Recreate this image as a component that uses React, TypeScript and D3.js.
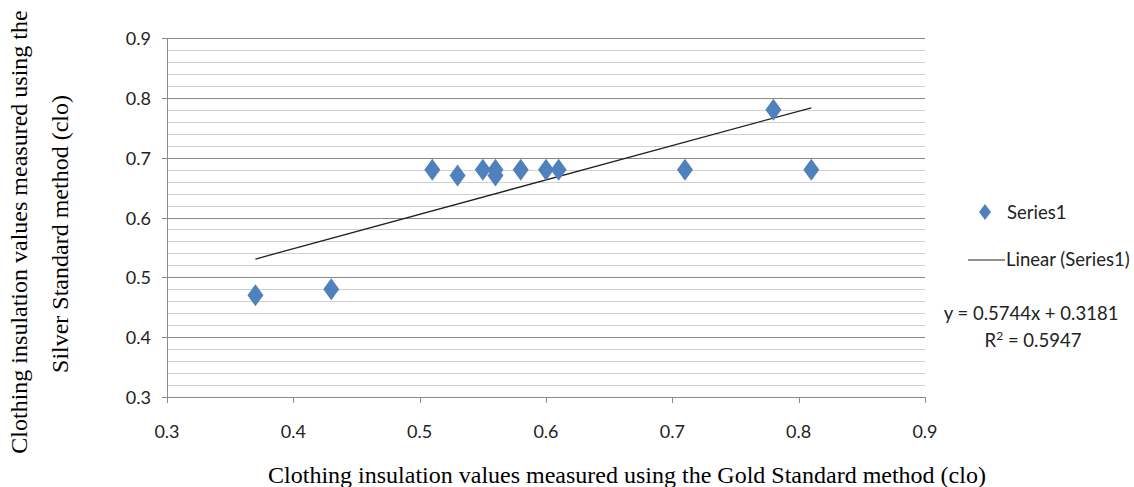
import React from "react";
import * as d3 from "d3";

// Measured clothing insulation (clo): Gold Standard (x) vs Silver Standard (y)
const goldValues = [0.37, 0.43, 0.51, 0.53, 0.55, 0.56, 0.56, 0.58, 0.6, 0.61, 0.71, 0.78, 0.81];
const silverValues = [0.47, 0.48, 0.68, 0.67, 0.68, 0.68, 0.67, 0.68, 0.68, 0.68, 0.68, 0.78, 0.68];

// Linear trendline as reported
const trendSlope = 0.5744;
const trendIntercept = 0.3181;
const rSquared = 0.5947;

const xTicks = [0.3, 0.4, 0.5, 0.6, 0.7, 0.8, 0.9];
const yTicks = [0.3, 0.4, 0.5, 0.6, 0.7, 0.8, 0.9];
const yMinorTicks = d3.range(0.3, 0.9001, 0.02);

const seriesName = "Series1";
const trendName = "Linear (Series1)";
const xTitle = "Clothing insulation values measured using the Gold Standard method (clo)";
const yTitleLines = ["Clothing insulation values measured using the", "Silver Standard method (clo)"];

const W = 1134;
const H = 487;
const plot = { left: 167, right: 925, top: 38, bottom: 397 };

const tickFont = "Lato, 'Open Sans', sans-serif";
const titleFont = "'Liberation Serif', 'Times New Roman', serif";
const blue = "#4F81BD";

export default function App() {
  const x = d3.scaleLinear().domain([0.3, 0.9]).range([plot.left, plot.right]);
  const y = d3.scaleLinear().domain([0.3, 0.9]).range([plot.bottom, plot.top]);

  const diamond = (cx: number, cy: number, hw: number, hh: number) =>
    d3.line()([
      [cx, cy - hh],
      [cx + hw, cy],
      [cx, cy + hh],
      [cx - hw, cy],
    ]) + "Z";

  const xMin = d3.min(goldValues)!;
  const xMax = d3.max(goldValues)!;
  const trendPath = d3
    .line<number>()
    .x((v) => x(v))
    .y((v) => y(trendSlope * v + trendIntercept))([xMin, xMax]);

  const legendText = {
    fontFamily: tickFont,
    fontSize: 18.5,
    fill: "#222",
  };

  return (
    <svg
      width={W}
      height={H}
      style={{ position: "absolute", left: 0, top: 0, background: "#fff" }}
    >
      {/* minor gridlines */}
      {yMinorTicks.map((t, i) => (
        <line
          key={"mn" + i}
          x1={plot.left}
          x2={plot.right}
          y1={Math.round(y(t)) + 0.5}
          y2={Math.round(y(t)) + 0.5}
          stroke="#d0d0d0"
          strokeWidth={1}
        />
      ))}
      {/* major gridlines */}
      {yTicks.map((t) => (
        <line
          key={"mj" + t}
          x1={plot.left - 5}
          x2={plot.right}
          y1={Math.round(y(t)) + 0.5}
          y2={Math.round(y(t)) + 0.5}
          stroke="#8a8a8a"
          strokeWidth={1}
        />
      ))}
      {/* axes */}
      <line x1={plot.left + 0.5} x2={plot.left + 0.5} y1={plot.top} y2={plot.bottom} stroke="#8a8a8a" />
      <line x1={plot.left} x2={plot.right} y1={plot.bottom + 0.5} y2={plot.bottom + 0.5} stroke="#8a8a8a" />
      {xTicks.map((t) => (
        <line
          key={"xt" + t}
          x1={Math.round(x(t)) + 0.5}
          x2={Math.round(x(t)) + 0.5}
          y1={plot.bottom}
          y2={plot.bottom + 6}
          stroke="#8a8a8a"
        />
      ))}
      {/* tick labels */}
      {yTicks.map((t) => (
        <text
          key={"yl" + t}
          x={plot.left - 16}
          y={y(t) + 7}
          textAnchor="end"
          fontFamily={tickFont}
          fontSize={18}
          fill="#222"
        >
          {t.toFixed(1)}
        </text>
      ))}
      {xTicks.map((t) => (
        <text
          key={"xl" + t}
          x={x(t)}
          y={438}
          textAnchor="middle"
          fontFamily={tickFont}
          fontSize={18}
          fill="#222"
        >
          {t.toFixed(1)}
        </text>
      ))}
      {/* trendline */}
      <path d={trendPath!} stroke="#222" strokeWidth={1.3} fill="none" />
      {/* points */}
      {goldValues.map((g, i) => (
        <path key={"p" + i} d={diamond(x(g), y(silverValues[i]), 8, 11)} fill={blue} />
      ))}
      {/* legend */}
      <path d={diamond(985, 212, 6, 8)} fill={blue} />
      <text x={1007} y={219} {...legendText}>
        {seriesName}
      </text>
      <line x1={968} x2={1005} y1={260} y2={260} stroke="#222" strokeWidth={1.2} />
      <text x={1006} y={266} {...legendText}>
        {trendName}
      </text>
      <text x={1031} y={320} textAnchor="middle" {...legendText}>
        {`y = ${trendSlope}x + ${trendIntercept}`}
      </text>
      <text x={1033} y={347} textAnchor="middle" {...legendText}>
        R
        <tspan dy={-7} fontSize={12}>
          2
        </tspan>
        <tspan dy={7}>{` = ${rSquared}`}</tspan>
      </text>
      {/* axis titles */}
      <text x={627} y={483} textAnchor="middle" fontFamily={titleFont} fontSize={24} fill="#000">
        {xTitle}
      </text>
      {yTitleLines.map((line, i) => (
        <text
          key={"yt" + i}
          transform={`translate(${i === 0 ? 27 : 68}, ${i === 0 ? 232 : 234}) rotate(-90)`}
          textAnchor="middle"
          fontFamily={titleFont}
          fontSize={24}
          fill="#000"
        >
          {line}
        </text>
      ))}
    </svg>
  );
}
